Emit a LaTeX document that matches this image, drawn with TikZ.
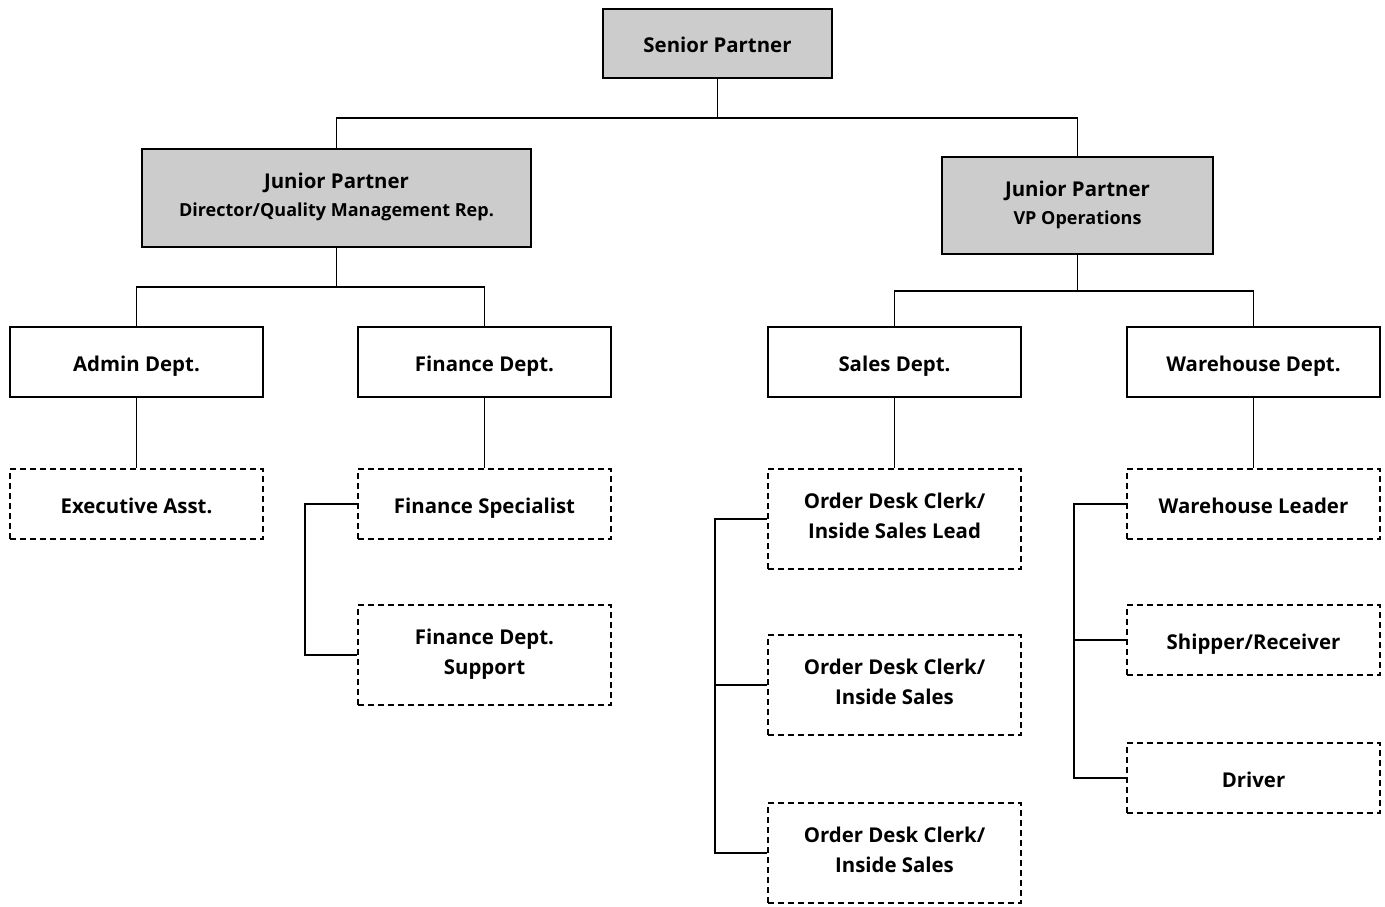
\documentclass[tikz,border=0pt]{standalone}
\usepackage{fontspec}
\setmainfont{Open Sans}
\definecolor{partnergray}{RGB}{204,204,204}
\newcommand\boxstrut{\rule[-6pt]{0pt}{30pt}}
\begin{document}
\begin{tikzpicture}[x=1pt,y=-1pt,line width=1.9pt,
  box/.style={draw,inner sep=0pt,align=center,minimum width=253pt,minimum height=70pt,
    font=\fontsize{20.4}{30}\selectfont\bfseries,
    execute at begin node=\boxstrut,execute at end node=\boxstrut},
  partner/.style={box,fill=partnergray},
  staff/.style={box,dash pattern=on 6pt off 4pt},
  tall/.style={minimum height=100pt}]
  \useasboundingbox (0,0) rectangle (1385,906);
  % partners
  \node[partner,minimum width=229pt,minimum height=69pt] (senior) at (717.5,43.5) {Senior Partner};
  \node[partner,minimum width=389pt,minimum height=98pt,font=\fontsize{20.4}{28}\selectfont\bfseries] (jpdir) at (336.5,198)
    {Junior Partner\\{\fontsize{18}{28}\selectfont Director/Quality Management Rep.}};
  \node[partner,minimum width=271pt,minimum height=97pt,font=\fontsize{20.4}{28}\selectfont\bfseries] (jpops) at (1077.5,205.5)
    {Junior Partner\\{\fontsize{18}{28}\selectfont VP Operations}};
  % departments
  \node[box] (admin) at (136.5,362) {Admin Dept.};
  \node[box] (finance) at (484.5,362) {Finance Dept.};
  \node[box] (sales) at (894.5,362) {Sales Dept.};
  \node[box] (warehouse) at (1253.5,362) {Warehouse Dept.};
  % staff
  \node[staff] (exec) at (136.5,504) {Executive Asst.};
  \node[staff] (finspec) at (484.5,504) {Finance Specialist};
  \node[staff,tall] (finsup) at (484.5,655) {Finance Dept.\\Support};
  \node[staff,tall] (order1) at (894.5,519) {Order Desk Clerk/\\Inside Sales Lead};
  \node[staff,tall] (order2) at (894.5,685) {Order Desk Clerk/\\Inside Sales};
  \node[staff,tall] (order3) at (894.5,853) {Order Desk Clerk/\\Inside Sales};
  \node[staff] (whlead) at (1253.5,504) {Warehouse Leader};
  \node[staff] (shipper) at (1253.5,640) {Shipper/Receiver};
  \node[staff] (driver) at (1253.5,778) {Driver};
  % connectors
  \coordinate (bustop) at (717.5,118);
  \coordinate (busdir) at (336.5,287);
  \coordinate (busops) at (1077.5,291);
  \draw (senior.south) -- (bustop);
  \draw (jpdir.north) |- (bustop) -| (jpops.north);
  \draw (jpdir.south) -- (busdir);
  \draw (admin.north) |- (busdir) -| (finance.north);
  \draw (jpops.south) -- (busops);
  \draw (sales.north) |- (busops) -| (warehouse.north);
  \draw (admin) -- (exec);
  \draw (finance) -- (finspec);
  \draw (sales) -- (order1);
  \draw (warehouse) -- (whlead);
  \draw (finspec.west) -- ++(-52,0) |- (finsup.west);
  \draw (order1.west) -- ++(-52,0) |- (order3.west);
  \draw (order2.west) -- ++(-52,0);
  \draw (whlead.west) -- ++(-52,0) |- (driver.west);
  \draw (shipper.west) -- ++(-52,0);
\end{tikzpicture}
\end{document}
